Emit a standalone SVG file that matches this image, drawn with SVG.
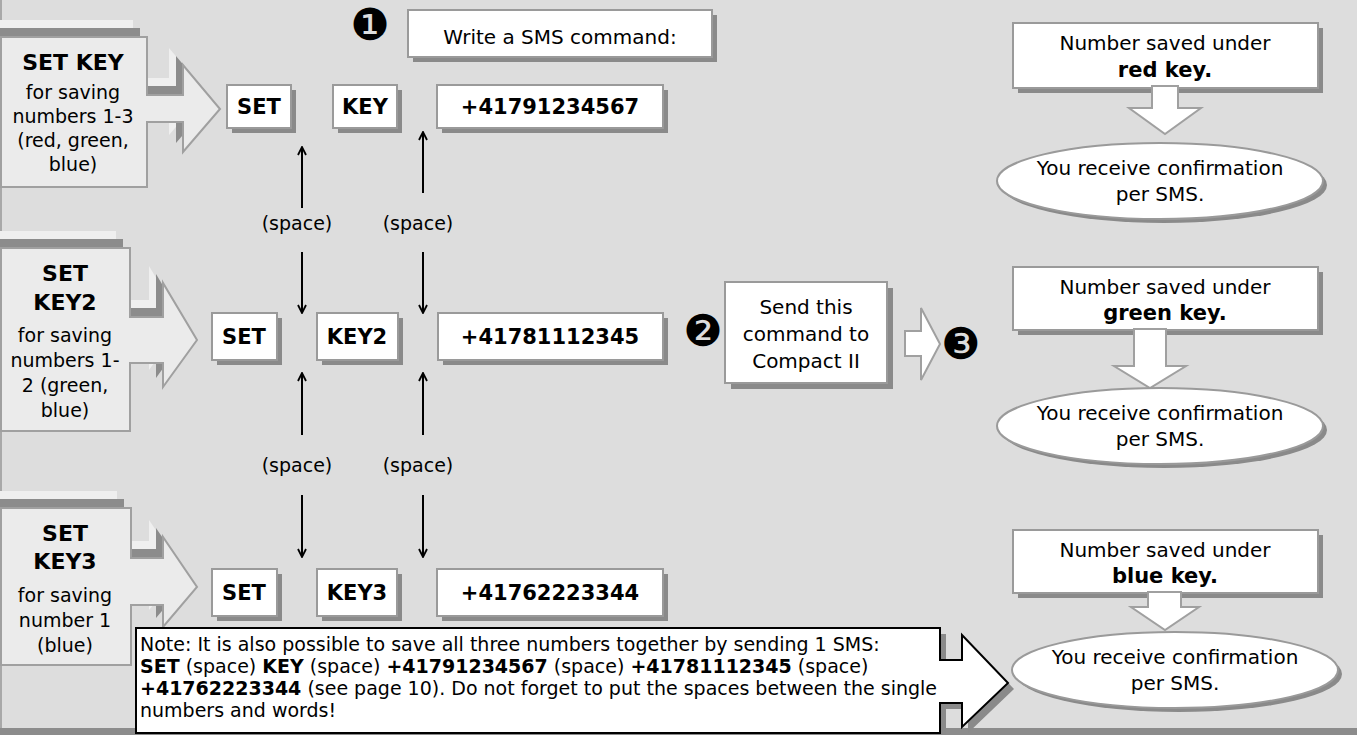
<svg xmlns="http://www.w3.org/2000/svg" xmlns:xlink="http://www.w3.org/1999/xlink" width="1357" height="735" viewBox="0 0 1357 735">
<defs>
<style>
text{font-family:"DejaVu Sans","Verdana",sans-serif;fill:#000}
.t{font-size:20px}
.s{font-size:19px}
.b{font-size:21px;font-weight:bold}
.bt{font-size:22px;font-weight:bold}
.c{text-anchor:middle}
.box{fill:#fff;stroke:#9a9a9a;stroke-width:2}
.sh{fill:#8a8a8a}
.call{fill:#ebebeb;stroke:#a0a0a0;stroke-width:2}
.cd{fill:#8c8c8c}
.cl{fill:#efefef}
.blk{fill:#fff;stroke:#a0a0a0;stroke-width:2}
.conn{stroke:#000;stroke-width:2;fill:none}
.num{font-size:44px;font-family:"DejaVu Sans",sans-serif}
</style>
<marker id="ah" viewBox="0 0 10 10" refX="9" refY="5" markerWidth="10" markerHeight="10" markerUnits="userSpaceOnUse" orient="auto">
<path d="M1,1 L9,5 L1,9" fill="none" stroke="#000" stroke-width="1.8"/>
</marker>
</defs>

<g id="background">
<rect x="0" y="0" width="1357" height="735" fill="#dddddd"/>
<line x1="1" y1="0" x2="1" y2="728" stroke="#a8a8a8" stroke-width="2"/>
<rect x="0" y="728" width="1357" height="7" fill="#8c8c8c"/>
</g>

<g id="callout-setkey">
<path id="p1" d="M1,37 H147 V95 H183 V65 L220,109 L183,152 V122 H147 V187 H1 Z"/>
<use xlink:href="#p1" class="cl" transform="translate(-14,-17)"/>
<use xlink:href="#p1" class="cd" transform="translate(-7,-9)"/>
<use xlink:href="#p1" class="call"/>
<text class="bt c" x="73" y="70">SET KEY</text>
<text class="s c" x="73" y="99">for saving</text>
<text class="s c" x="73" y="123">numbers 1-3</text>
<text class="s c" x="73" y="147">(red, green,</text>
<text class="s c" x="73" y="171">blue)</text>
</g>

<g id="callout-setkey2">
<path id="p2" d="M1,248 H130 V317 H163 V283 L197,340 L163,387 V363 H130 V431 H1 Z"/>
<use xlink:href="#p2" class="cl" transform="translate(-14,-17)"/>
<use xlink:href="#p2" class="cd" transform="translate(-7,-9)"/>
<use xlink:href="#p2" class="call"/>
<text class="bt c" x="65" y="281">SET</text>
<text class="bt c" x="65" y="310">KEY2</text>
<text class="s c" x="65" y="342">for saving</text>
<text class="s c" x="65" y="367">numbers 1-</text>
<text class="s c" x="65" y="392">2 (green,</text>
<text class="s c" x="65" y="417">blue)</text>
</g>

<g id="callout-setkey3">
<path id="p3" d="M1,508 H131 V558 H163 V537 L197,587 L163,627 V605 H131 V665 H1 Z"/>
<use xlink:href="#p3" class="cl" transform="translate(-14,-17)"/>
<use xlink:href="#p3" class="cd" transform="translate(-7,-9)"/>
<use xlink:href="#p3" class="call"/>
<text class="bt c" x="65" y="541">SET</text>
<text class="bt c" x="65" y="569">KEY3</text>
<text class="s c" x="65" y="602">for saving</text>
<text class="s c" x="65" y="627">number 1</text>
<text class="s c" x="65" y="652">(blue)</text>
</g>

<g id="step1">
<text class="num c" x="370" y="40">❶</text>
<rect class="sh" x="413" y="15" width="304" height="47"/>
<rect class="box" x="408" y="10" width="304" height="47"/>
<text class="t c" x="560" y="44">Write a SMS command:</text>
</g>

<g id="row1-set"><rect class="sh" x="232" y="90" width="64" height="43"/><rect class="box" x="227" y="85" width="64" height="43"/><text class="b c" x="259" y="114">SET</text></g>
<g id="row1-key"><rect class="sh" x="338" y="90" width="64" height="43"/><rect class="box" x="333" y="85" width="64" height="43"/><text class="b c" x="365" y="114">KEY</text></g>
<g id="row1-number"><rect class="sh" x="442" y="90" width="226" height="43"/><rect class="box" x="437" y="85" width="226" height="43"/><text class="b c" x="550" y="114">+41791234567</text></g>

<g id="row2-set"><rect class="sh" x="217" y="318" width="65" height="47"/><rect class="box" x="212" y="313" width="65" height="47"/><text class="b c" x="244" y="344">SET</text></g>
<g id="row2-key2"><rect class="sh" x="322" y="318" width="81" height="47"/><rect class="box" x="317" y="313" width="81" height="47"/><text class="b c" x="357" y="344">KEY2</text></g>
<g id="row2-number"><rect class="sh" x="443" y="318" width="225" height="47"/><rect class="box" x="438" y="313" width="225" height="47"/><text class="b c" x="550" y="344">+41781112345</text></g>

<g id="row3-set"><rect class="sh" x="217" y="574" width="65" height="47"/><rect class="box" x="212" y="569" width="65" height="47"/><text class="b c" x="244" y="600">SET</text></g>
<g id="row3-key3"><rect class="sh" x="322" y="574" width="80" height="47"/><rect class="box" x="317" y="569" width="80" height="47"/><text class="b c" x="357" y="600">KEY3</text></g>
<g id="row3-number"><rect class="sh" x="442" y="574" width="226" height="47"/><rect class="box" x="437" y="569" width="226" height="47"/><text class="b c" x="550" y="600">+41762223344</text></g>

<g id="connectors">
<line class="conn" x1="302" y1="208" x2="302" y2="147" marker-end="url(#ah)"/>
<line class="conn" x1="423" y1="193" x2="423" y2="132" marker-end="url(#ah)"/>
<line class="conn" x1="302" y1="252" x2="302" y2="313" marker-end="url(#ah)"/>
<line class="conn" x1="423" y1="252" x2="423" y2="313" marker-end="url(#ah)"/>
<line class="conn" x1="302" y1="435" x2="302" y2="373" marker-end="url(#ah)"/>
<line class="conn" x1="423" y1="435" x2="423" y2="373" marker-end="url(#ah)"/>
<line class="conn" x1="302" y1="495" x2="302" y2="557" marker-end="url(#ah)"/>
<line class="conn" x1="423" y1="495" x2="423" y2="557" marker-end="url(#ah)"/>
<text class="s c" x="297" y="230">(space)</text>
<text class="s c" x="418" y="230">(space)</text>
<text class="s c" x="297" y="472">(space)</text>
<text class="s c" x="418" y="472">(space)</text>
</g>

<g id="step2">
<text class="num c" x="703" y="346">❷</text>
<rect class="sh" x="731" y="288" width="162" height="101"/>
<rect class="box" x="725" y="282" width="162" height="101"/>
<text class="t c" x="806" y="314">Send this</text>
<text class="t c" x="806" y="341">command to</text>
<text class="t c" x="806" y="368">Compact II</text>
<path class="blk" d="M905,331 H921 V308 L940,344 L921,380 V356 H905 Z"/>
<text class="num c" x="961" y="359">❸</text>
</g>

<g id="result-red">
<rect class="sh" x="1018" y="28" width="305" height="65"/>
<rect class="box" x="1013" y="23" width="305" height="65"/>
<text class="t c" x="1165" y="50">Number saved under</text>
<text class="b c" x="1165" y="77">red key.</text>
<path class="blk" d="M1152,86 H1178 V108 H1201 L1165,134 L1129,108 H1152 Z"/>
<ellipse class="sh" cx="1164" cy="185" rx="163" ry="38"/>
<ellipse class="box" cx="1160" cy="181" rx="163" ry="38"/>
<text class="t c" x="1160" y="175">You receive confirmation</text>
<text class="t c" x="1160" y="201">per SMS.</text>
</g>

<g id="result-green">
<rect class="sh" x="1018" y="272" width="305" height="63"/>
<rect class="box" x="1013" y="267" width="305" height="63"/>
<text class="t c" x="1165" y="294">Number saved under</text>
<text class="b c" x="1165" y="320">green key.</text>
<path class="blk" d="M1134,329 H1166 V366 H1186 L1150,388 L1114,366 H1134 Z"/>
<ellipse class="sh" cx="1164" cy="430" rx="163" ry="38"/>
<ellipse class="box" cx="1160" cy="426" rx="163" ry="38"/>
<text class="t c" x="1160" y="420">You receive confirmation</text>
<text class="t c" x="1160" y="446">per SMS.</text>
</g>

<g id="result-blue">
<rect class="sh" x="1018" y="535" width="305" height="63"/>
<rect class="box" x="1013" y="530" width="305" height="63"/>
<text class="t c" x="1165" y="557">Number saved under</text>
<text class="b c" x="1165" y="583">blue key.</text>
<path class="blk" d="M1148,592 H1181 V607 H1199 L1165,630 L1131,607 H1148 Z"/>
<ellipse class="sh" cx="1179" cy="674" rx="163" ry="38"/>
<ellipse class="box" cx="1175" cy="670" rx="163" ry="38"/>
<text class="t c" x="1175" y="664">You receive confirmation</text>
<text class="t c" x="1175" y="690">per SMS.</text>
</g>

<g id="note">
<path class="sh" d="M142,634 H946 V666 H968 V641 L1014,689 L968,733 V709 H946 V739 H142 Z"/>
<path d="M136,628 H940 V660 H962 V635 L1008,683 L962,727 V703 H940 V733 H136 Z" fill="#fff" stroke="#000" stroke-width="2"/>
<text class="s" x="140" y="651">Note: It is also possible to save all three numbers together by sending 1 SMS:</text>
<text class="s" x="140" y="673"><tspan font-weight="bold">SET</tspan> (space) <tspan font-weight="bold">KEY</tspan> (space) <tspan font-weight="bold">+41791234567</tspan> (space) <tspan font-weight="bold">+41781112345</tspan> (space)</text>
<text class="s" x="140" y="695"><tspan font-weight="bold">+41762223344</tspan> (see page 10). Do not forget to put the spaces between the single</text>
<text class="s" x="140" y="717">numbers and words!</text>
</g>
</svg>
